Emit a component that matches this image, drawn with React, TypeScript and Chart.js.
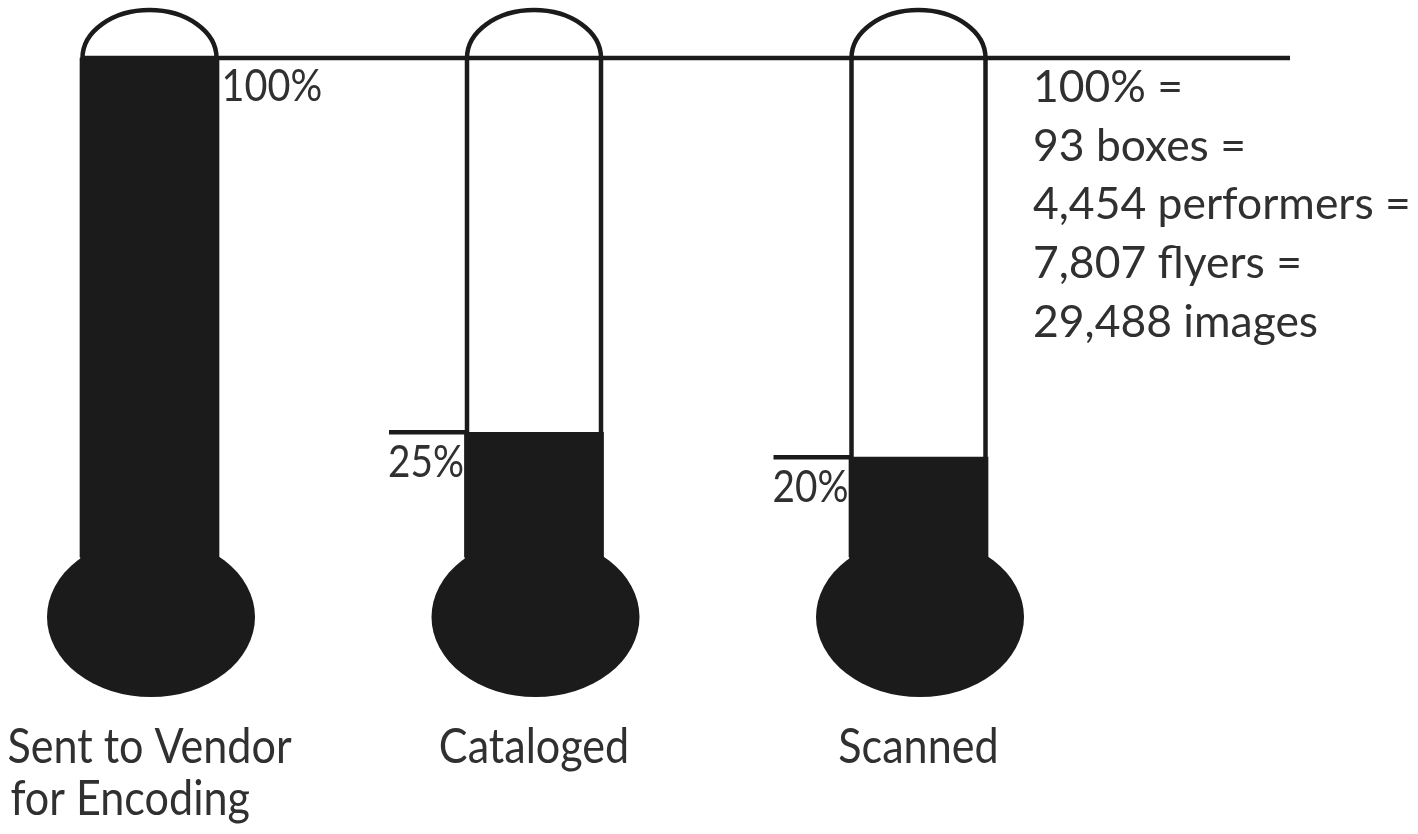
import { useEffect, useRef } from 'react'
import { Chart, registerables } from 'chart.js'
Chart.register(...registerables)

// progress per stage, in percent of the whole collection
const STAGES = [['Sent to Vendor', 'for Encoding'], ['Cataloged'], ['Scanned']]
const PERCENT = [100, 25, 20]
const TOTALS = ['100% =', '93 boxes =', '4,454 performers =', '7,807 flyers =', '29,488 images']

const INK = '#1b1b1b'
const TEXT = '#303030'
const FONT = "Lato, 'Open Sans', sans-serif"

// condensed text, the original face is narrower than anything installed
function label(ctx: CanvasRenderingContext2D, s: string, x: number, y: number, align: CanvasTextAlign, sx = 0.9) {
  ctx.save()
  ctx.translate(x, y)
  ctx.scale(sx, 1)
  ctx.textAlign = align
  ctx.textBaseline = 'alphabetic'
  ctx.fillText(s, 0, 0)
  ctx.restore()
}

const thermo = {
  id: 'thermo',
  afterDatasetsDraw(chart: Chart) {
    const { ctx } = chart
    const x = chart.scales.x, y = chart.scales.y
    const top = y.getPixelForValue(100)
    const zero = y.getPixelForValue(0)
    const half = 67
    const bulbCy = zero + 60

    ctx.save()
    ctx.fillStyle = INK
    ctx.strokeStyle = INK
    ctx.lineWidth = 4.5

    // 100% rule across all tubes
    ctx.beginPath()
    ctx.moveTo(x.getPixelForValue(0) - half, top)
    ctx.lineTo(1290, top)
    ctx.stroke()

    PERCENT.forEach((v, i) => {
      const cx = x.getPixelForValue(i)
      ctx.fillStyle = INK
      ctx.beginPath()
      ctx.ellipse(cx + 1.5, bulbCy, 104, 80, 0, 0, Math.PI * 2)
      ctx.fill()

      ctx.beginPath()
      ctx.moveTo(cx - half, bulbCy)
      ctx.lineTo(cx - half, top)
      ctx.ellipse(cx, top, half, 48, 0, Math.PI, Math.PI * 2)
      ctx.lineTo(cx + half, bulbCy)
      ctx.stroke()

      const py = y.getPixelForValue(v)
      ctx.fillStyle = TEXT
      ctx.font = `400 44px ${FONT}`
      if (v >= 100) {
        label(ctx, `${v}%`, cx + half + 5, py + 43, 'left', 0.9)
      } else {
        ctx.beginPath()
        ctx.moveTo(cx - half - 78, py)
        ctx.lineTo(cx - half, py)
        ctx.stroke()
        label(ctx, `${v}%`, cx - half - 3, py + 45, 'right', 0.88)
      }

      // stage name, lines share the left edge of the first one
      ctx.font = `400 49px ${FONT}`
      const sx = 0.88
      const left = cx - ctx.measureText(STAGES[i][0]).width * sx / 2
      STAGES[i].forEach((line, j) => label(ctx, line, left + j * 3, zero + 206 + j * 52, 'left', sx))
    })

    ctx.fillStyle = TEXT
    ctx.font = `400 44px ${FONT}`
    TOTALS.forEach((line, j) => label(ctx, line, 1033, top + 44 + j * 58.7, 'left', 1.01))
    ctx.restore()
  }
}

export default function App() {
  const ref = useRef<HTMLCanvasElement>(null)

  useEffect(() => {
    if (!ref.current) return
    const chart = new Chart(ref.current, {
      type: 'bar',
      data: {
        labels: STAGES.map(s => s.join(' ')),
        datasets: [{ data: PERCENT, backgroundColor: INK, barThickness: 139, clip: false } as never]
      },
      options: {
        responsive: true,
        maintainAspectRatio: false,
        animation: false,
        layout: { padding: { left: 149.5, right: 499.5, top: 58, bottom: 277 } },
        plugins: { legend: { display: false }, tooltip: { enabled: false } },
        scales: {
          x: { type: 'category', offset: false, display: false },
          y: { min: 0, max: 100, display: false }
        }
      },
      plugins: [thermo]
    })
    return () => chart.destroy()
  }, [])

  return (
    <div style={{ position: 'fixed', left: 0, top: 0, width: 1418, height: 834, background: '#fff' }}>
      <canvas ref={ref} />
    </div>
  )
}
